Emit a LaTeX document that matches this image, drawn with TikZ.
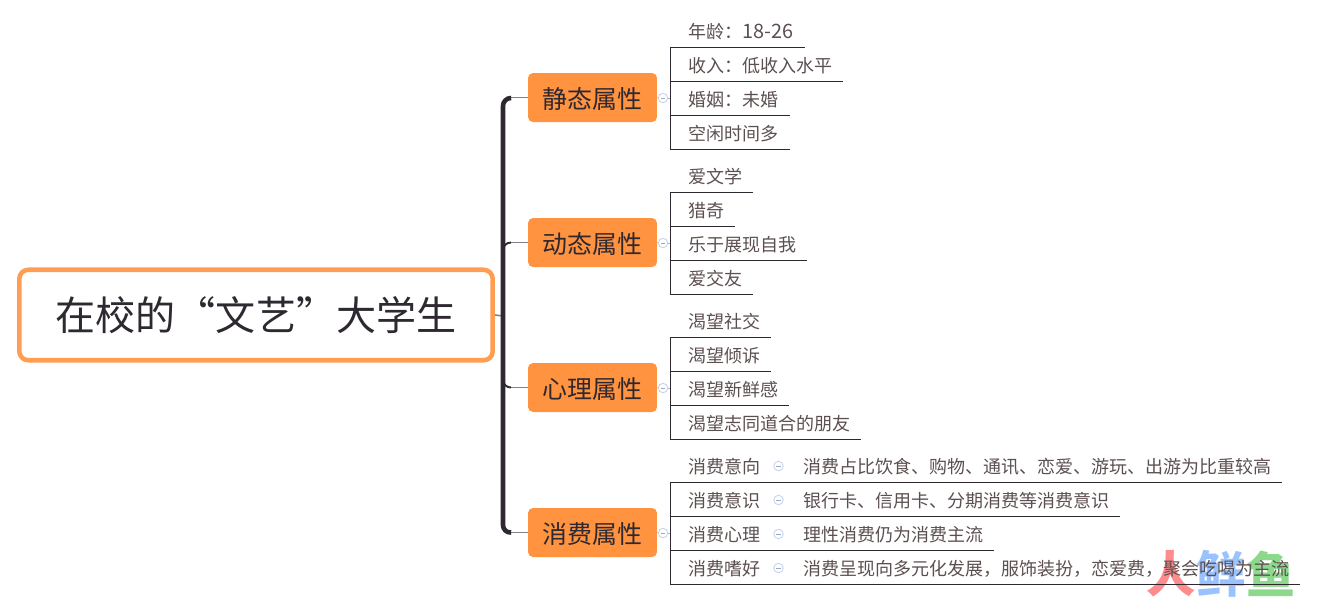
\documentclass[tikz,border=0pt]{standalone}
\usepackage{fontspec}
\setmainfont{Noto Sans CJK SC}
\definecolor{inkdark}{HTML}{2E2830}
\definecolor{inkleaf}{HTML}{5C4F50}
\definecolor{brorange}{HTML}{FF9340}
\definecolor{foldblue}{HTML}{C5D3EE}
\definecolor{twiggray}{HTML}{85808A}
\tikzset{
  rootbox/.style={draw=brorange!90!white, line width=2.6pt, fill=white, rounded corners=0.18cm, minimum width=9.47cm, minimum height=1.81cm, text=inkdark, font=\fontsize{22.8pt}{26pt}\selectfont, inner sep=0pt},
  branchbox/.style={fill=brorange, rounded corners=0.1cm, minimum width=2.58cm, minimum height=0.98cm, text=inkdark, font=\fontsize{14.2pt}{17pt}\selectfont, inner sep=0pt, text height=0.52cm, text depth=0.10cm},
  leaf/.style={anchor=west, text=inkleaf, font=\fontsize{10.25pt}{12pt}\selectfont, inner sep=0pt},
  rule/.style={draw=inkdark, line width=0.45pt},
  trunkline/.style={draw=inkdark, line width=2.6pt},
  twig/.style={draw=twiggray, line width=0.9pt},
  tick/.style={draw=gray!60, line width=0.4pt},
  fold/.style={circle, draw=foldblue, line width=0.5pt, fill=white, minimum size=0.19cm, inner sep=0pt,
    path picture={\draw[foldblue!80!black, line width=0.4pt] ([xshift=0.05cm]path picture bounding box.west) -- ([xshift=-0.05cm]path picture bounding box.east);}},
  stamp/.style={font=\fontsize{28pt}{30pt}\selectfont\bfseries, inner sep=0pt}
}
\begin{document}
\begin{tikzpicture}[x=0.02cm,y=-0.02cm]
  \useasboundingbox (0,0) rectangle (1317,600);

  % watermark
  \node[stamp, text=red!45] (wm1) at (1171,574) {人};
  \node[stamp, text=blue!60!cyan!40] (wm2) at (1221,574) {鲜};
  \node[stamp, text=green!50!gray!60] (wm3) at (1271,574) {鱼};

  \node[rootbox] (root) at (256,315) {在校的“文艺”大学生};
  \node[branchbox] (stat) at (592.5,97.5) {静态属性};
  \node[branchbox] (dyna) at (592.5,242.5) {动态属性};
  \node[branchbox] (psyc) at (592.5,387.5) {心理属性};
  \node[branchbox] (cons) at (592.5,532.5) {消费属性};

  % trunk
  \coordinate (trunktop) at (503,98);
  \coordinate (trunkbot) at (503,533);
  \coordinate (trunkmid) at (503,316);
  \draw[twig] (root.east) -- (trunkmid);
  \draw[twig] (stat.west) -- (510,97.5);
  \draw[twig] (dyna.west) -- (510,242.5);
  \draw[twig] (psyc.west) -- (510,387.5);
  \draw[twig] (cons.west) -- (510,532.5);
  \draw[trunkline, rounded corners=0.16cm] (511,98) -- (trunktop) -- (trunkbot) -- (511,532.5);
  \draw[inkdark, line width=1.1pt] (503,250) to[out=90,in=180] (511,242.5);
  \draw[inkdark, line width=1.1pt] (503,380) to[out=-90,in=180] (511,387.5);

  % static
  \foreach \n/\ty/\xe/\txt in {a1/31/805/{年龄：{\fontsize{11.3pt}{12pt}\selectfont 18-26}}, a2/65/843/{收入：低收入水平}, a3/99/790/{婚姻：未婚}, a4/133/790/{空闲时间多}}{
    \node[leaf] (\n) at (688,\ty+1) {\txt};
    \coordinate (\n s) at (670,\ty+16);
    \coordinate (\n e) at (\xe,\ty+16);
    \draw[rule] (\n s) -- (\n e);
  }
  \draw[rule] (a1s) -- (a4s);
  \node[fold] (afold) at (663,98) {};
  \draw[tick] (stat.east) -- (afold);
  \draw[tick] (afold) -- (670,98);

  % dynamic
  \foreach \n/\ty/\xe/\txt in {b1/176/753/{爱文学}, b2/210/735/{猎奇}, b3/244/807/{乐于展现自我}, b4/278/753/{爱交友}}{
    \node[leaf] (\n) at (688,\ty+1) {\txt};
    \coordinate (\n s) at (670,\ty+16);
    \coordinate (\n e) at (\xe,\ty+16);
    \draw[rule] (\n s) -- (\n e);
  }
  \draw[rule] (b1s) -- (b4s);
  \node[fold] (bfold) at (663,243) {};
  \draw[tick] (dyna.east) -- (bfold);
  \draw[tick] (bfold) -- (670,243);

  % psychological
  \foreach \n/\ty/\xe/\txt in {c1/321/771/{渴望社交}, c2/355/771/{渴望倾诉}, c3/389/789/{渴望新鲜感}, c4/423/861/{渴望志同道合的朋友}}{
    \node[leaf] (\n) at (688,\ty+1) {\txt};
    \coordinate (\n s) at (670,\ty+16);
    \coordinate (\n e) at (\xe,\ty+16);
    \draw[rule] (\n s) -- (\n e);
  }
  \draw[rule] (c1s) -- (c4s);
  \node[fold] (cfold) at (663,388) {};
  \draw[tick] (psyc.east) -- (cfold);
  \draw[tick] (cfold) -- (670,388);

  % consumption
  \foreach \n/\ty/\xe/\txt/\sub in {d1/466/1282/{消费意向}/{消费占比饮食、购物、通讯、恋爱、游玩、出游为比重较高}, d2/500/1120/{消费意识}/{银行卡、信用卡、分期消费等消费意识}, d3/534/994/{消费心理}/{理性消费仍为消费主流}, d4/568/1300/{消费嗜好}/{消费呈现向多元化发展，服饰装扮，恋爱费，聚会吃喝为主流}}{
    \node[leaf] (\n) at (688,\ty+1) {\txt};
    \node[fold] (\n f) at (778.5,\ty) {};
    \node[leaf] (\n t) at (803,\ty+1) {\sub};
    \coordinate (\n s) at (670,\ty+16);
    \coordinate (\n e) at (\xe,\ty+16);
    \draw[rule] (\n s) -- (\n e);
  }
  \draw[rule] (d1s) -- (d4s);
  \node[fold] (dfold) at (663,533) {};
  \draw[tick] (cons.east) -- (dfold);
  \draw[tick] (dfold) -- (670,533);
\end{tikzpicture}
\end{document}
